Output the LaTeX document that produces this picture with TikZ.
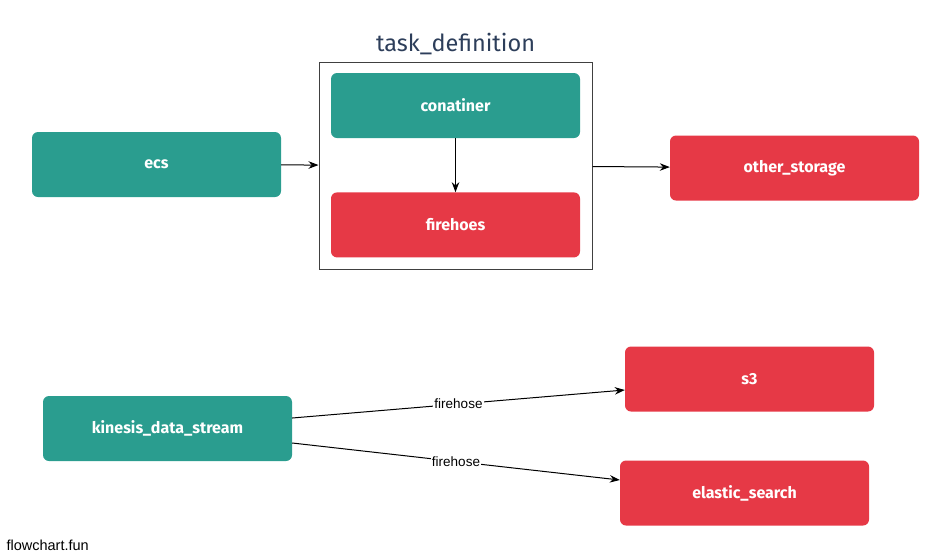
\documentclass[tikz,border=0pt]{standalone}
\usepackage{fontspec}
\setmainfont{Fira Sans}
\newfontfamily\edgefont{Liberation Sans}
\usepackage{tikz}
\usetikzlibrary{arrows.meta,positioning}

\definecolor{teal}{HTML}{2A9D8F}
\definecolor{coral}{HTML}{E63946}
\definecolor{slate}{HTML}{2D3E5A}

\begin{document}
\begin{tikzpicture}[x=1pt,y=-1pt,>={Stealth[length=10pt,width=7.5pt]},node distance=54pt,
		box/.style={rounded corners=6pt,minimum width=249pt,minimum height=65pt,inner sep=0pt,
			text=white,font=\fontsize{16}{19}\selectfont\bfseries},
		green/.style={box,fill=teal},
		red/.style={box,fill=coral},
		lbl/.style={fill=white,inner sep=1pt,font=\edgefont\fontsize{13.5}{15}\selectfont}]
		\useasboundingbox (0,0) rectangle (951,558);

		\node[draw=black!75,line width=1pt,minimum width=273pt,minimum height=207pt] (td) at (455.5,165.5) {};
		\node[text=slate,font=\fontsize{23.5}{27}\selectfont] (tdname) at (455.5,44) {task\_definition};
		\node[green] (cont) at (455.5,105.5) {conatiner};
		\node[red] (fh) [below=54pt of cont] {firehoes};

		\node[green] (ecs) at (156.5,164.5) {ecs};
		\node[red] (os) at (794.5,168) {other\_storage};

		\node[green] (kds) at (167.5,428.5) {kinesis\_data\_stream};
		\node[red] (s3) at (749.5,379) {s3};
		\node[red] (es) at (744.5,493) {elastic\_search};

		\node[anchor=west,font=\edgefont\fontsize{14.5}{16}\selectfont] (brand) at (3,545) {flowchart.fun};

		\path[->,line width=1pt] (ecs) edge (td)
		(td) edge (os)
		(cont) edge (fh)
		([yshift=10.5pt]kds.east) edge node[lbl] {firehose} ([yshift=-11pt]s3.west)
		([yshift=-14.5pt]kds.east) edge node[lbl] {firehose} ([yshift=13pt]es.west);
	\end{tikzpicture}
\end{document}
